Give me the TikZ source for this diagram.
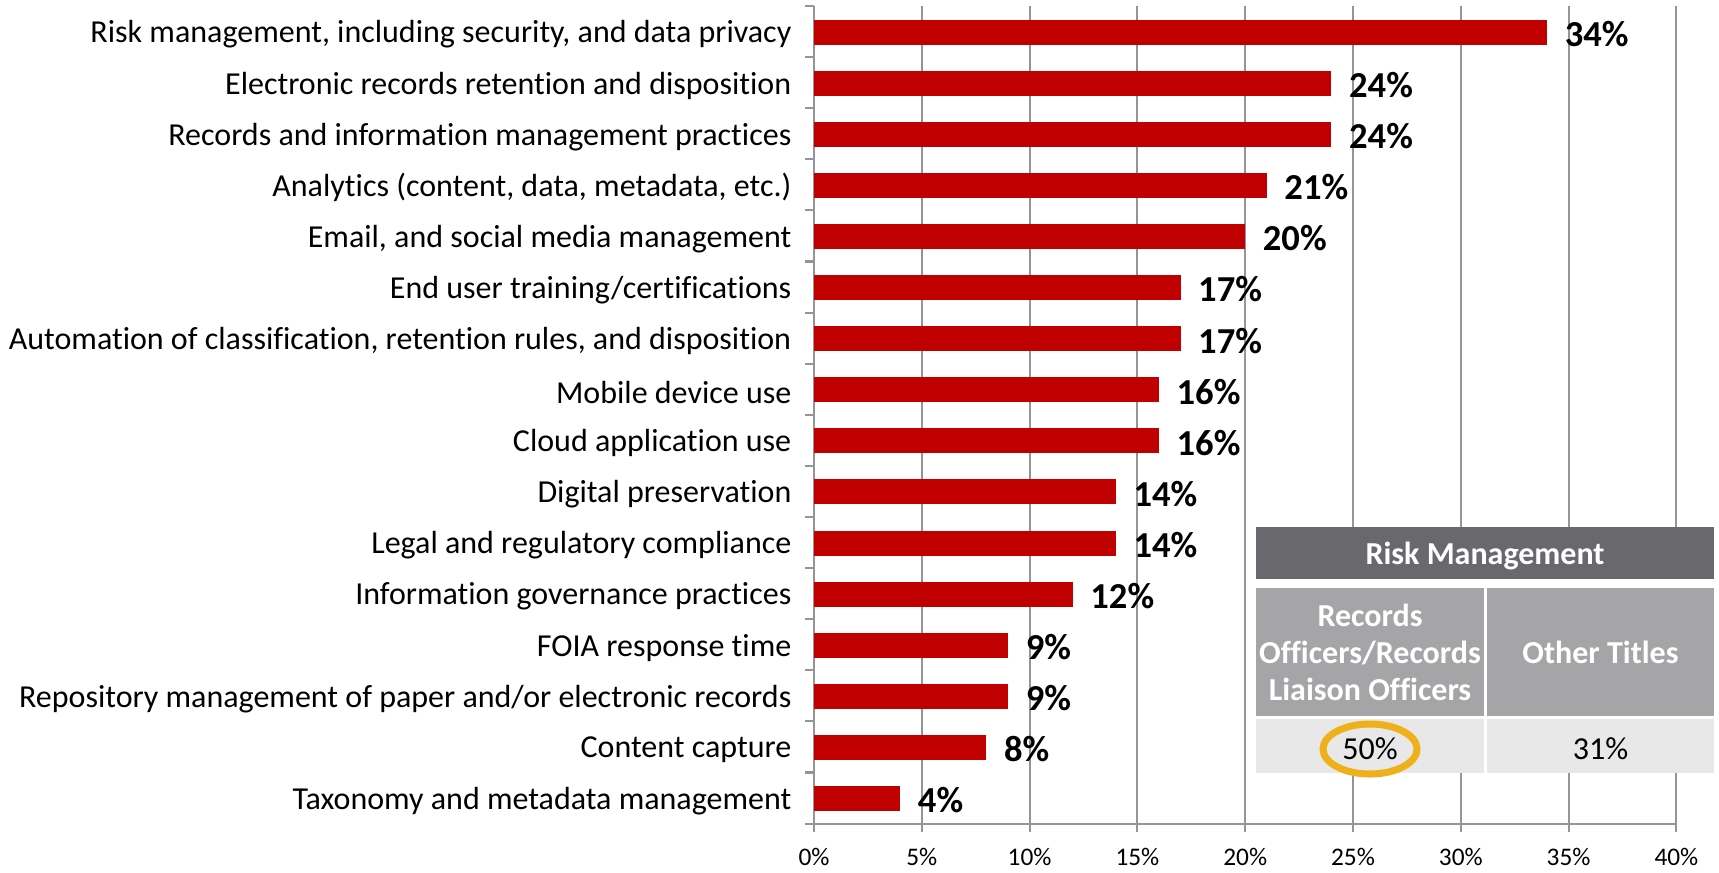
\documentclass[tikz,border=0pt]{standalone}
\usepackage{fontspec}
\setmainfont[Ligatures=NoCommon]{Carlito}
\definecolor{barred}{HTML}{C00000}
\definecolor{gridgray}{HTML}{959595}
\definecolor{headgray}{HTML}{69696D}
\definecolor{midgray}{HTML}{A5A5A8}
\definecolor{cellgray}{HTML}{E8E8E8}
\definecolor{ringgold}{HTML}{EEB11B}

\begin{document}
\begin{tikzpicture}[x=0.01cm,y=-0.01cm,
    gridline/.style={draw=gridgray,line width=0.6pt},
    catlabel/.style={anchor=east,inner sep=0pt,font=\fontsize{9.1}{11}\selectfont},
    vallabel/.style={anchor=west,inner sep=0pt,font=\fontsize{10.4}{12}\selectfont\bfseries},
    ticklabel/.style={inner sep=0pt,font=\fontsize{7.2}{9}\selectfont},
    cell/.style={inner sep=0pt,align=center,text=white,font=\fontsize{9.1}{10.5}\selectfont\bfseries},
    ring/.style={draw=ringgold,line width=2pt}]
  \useasboundingbox (0,0) rectangle (1719,872);
  % grid and axes
  \foreach \p in {5,10,...,40} {\draw[gridline] ({814+\p*21.56},6) -- ({814+\p*21.56},832);}
  \foreach \p in {0,5,...,40} {\node[ticklabel] (t\p) at ({814+\p*21.56},857) {\p\%};}
  \foreach \k in {0,...,16} {\draw[gridline] (805,{6+\k*51.1}) -- (814,{6+\k*51.1});}
  \draw[gridline] (814,6) -- (814,832);
  \draw[gridline] (805,824) -- (1676,824);
  % bars, one per topic
  \foreach \v/\c [count=\i from 1] in {34/{Risk management, including security, and data privacy},
      24/{Electronic records retention and disposition}, 24/{Records and information management practices},
      21/{Analytics (content, data, metadata, etc.)}, 20/{Email, and social media management},
      17/{End user training/certifications}, 17/{Automation of classification, retention rules, and disposition},
      16/{Mobile device use}, 16/{Cloud application use}, 14/{Digital preservation},
      14/{Legal and regulatory compliance}, 12/{Information governance practices}, 9/{FOIA response time},
      9/{Repository management of paper and/or electronic records}, 8/{Content capture},
      4/{Taxonomy and metadata management}} {
    \pgfmathsetmacro\y{32+(\i-1)*51.1}
    \fill[barred] (814,\y-12.5) rectangle ({814+\v*21.56},\y+12.5);
    \node[catlabel] (c\i) at (792,\y+2.5) {\c};
    \node[vallabel] (v\i) at ({831+\v*21.56},\y+2) {\v\%};
  }
  % inset table
  \fill[white] (1256,527) rectangle (1714,773);
  \node[cell,fill=headgray,text depth=0pt,minimum width=4.58cm,minimum height=0.52cm] (rmhead) at (1485,553) {Risk Management};
  \node[cell,fill=midgray,minimum width=2.28cm,minimum height=1.28cm] (rmrec) at (1370,652) {Records\\Officers/Records\\Liaison Officers};
  \node[cell,fill=midgray,minimum width=2.27cm,minimum height=1.28cm] (rmoth) at (1600.5,652) {Other Titles};
  \node[cell,fill=cellgray,minimum width=2.28cm,minimum height=0.54cm] (rmc50) at (1370,746) {};
  \node[cell,fill=cellgray,minimum width=2.27cm,minimum height=0.54cm] (rmc31) at (1600.5,746) {};
  \node[inner sep=0pt,font=\fontsize{9.1}{10.5}\selectfont] (p50) at (1370,749) {50\%};
  \node[inner sep=0pt,font=\fontsize{9.1}{10.5}\selectfont] (p31) at (1600.5,749) {31\%};
  \draw[ring] (p50.center) ellipse [x radius=47,y radius=25];
\end{tikzpicture}
\end{document}
